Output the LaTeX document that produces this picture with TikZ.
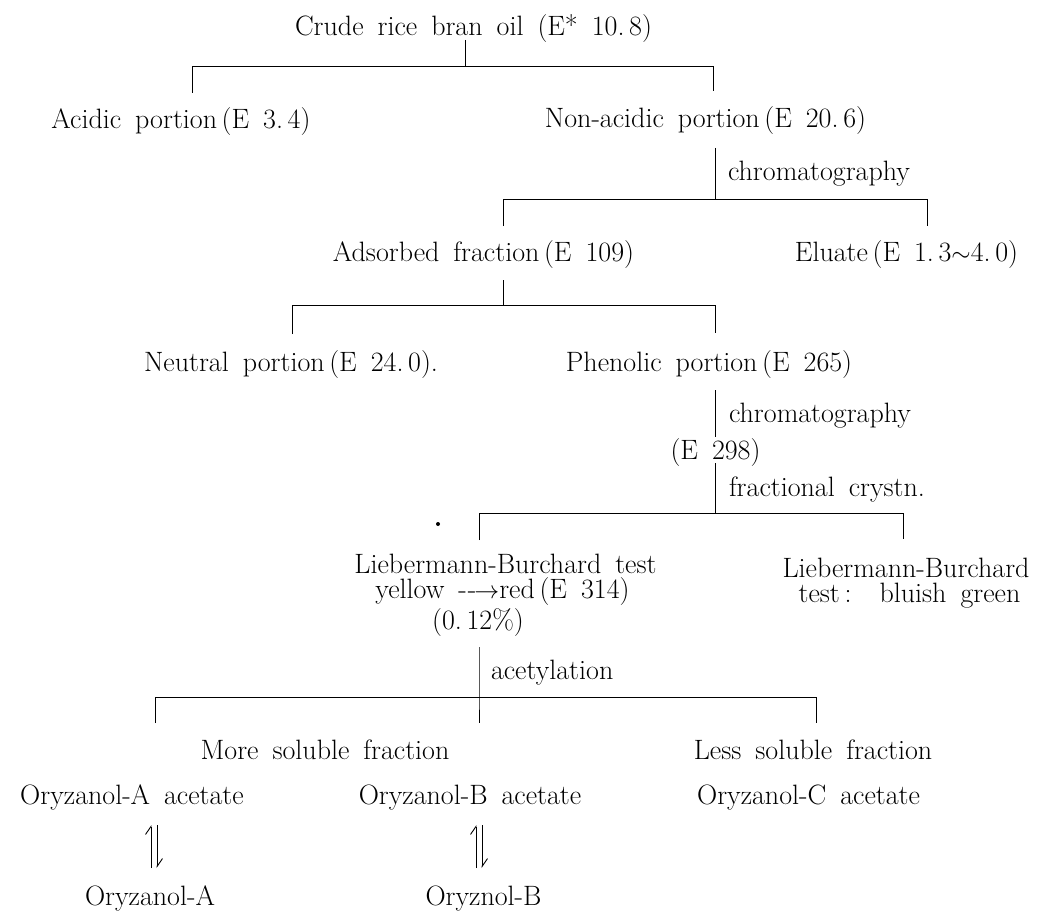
\documentclass[tikz,border=0pt]{standalone}
\usetikzlibrary{arrows.meta}
\newcommand\diagfont{\fontsize{28}{25}\selectfont\spaceskip 0.5em plus 0.1em\relax}
\tikzset{
  lbl/.style={anchor=base, inner sep=0pt, outer sep=0pt, font=\diagfont},
  lblw/.style={lbl, anchor=base west},
  br/.style={line width=0.9pt},
  harp/.style={line width=0.9pt, -{Straight Barb[left, length=8pt, width=11pt]}}
}
\begin{document}
\begin{tikzpicture}[x=1pt,y=-1pt]
\fill[white] (0,0) rectangle (1046,912);
\useasboundingbox (0,0) rectangle (1046,912);

% text nodes
\node[lbl] (crude) at (473.5,36) {Crude rice bran oil (E* 10.\,8)};
\node[lbl] (acid) at (181,129) {Acidic portion\,(E 3.\,4)};
\node[lbl] (nonacid) at (705.5,128) {Non-acidic portion\,(E 20.\,6)};
\node[lblw] (chrom1) at (728,181) {chromatography};
\node[lbl] (adsorbed) at (483.5,261) {Adsorbed fraction\,(E 109)};
\node[lbl] (eluate) at (906.5,261) {Eluate\,(E 1.\,3$\sim$4.\,0)};
\node[lbl] (neutral) at (291,371) {Neutral portion\,(E 24.\,0).};
\node[lbl] (phenolic) at (709,371) {Phenolic portion\,(E 265)};
\node[lblw] (chrom2) at (729,422) {chromatography};
\node[lbl] (e298) at (715.5,459) {(E\ 298)};
\node[lblw] (fract) at (729,496) {fractional crystn.};
% multi-line nodes: base anchor = baseline of last line
\node[lbl, align=center] (lbA) at (505.5,629) {Liebermann-Burchard test\\
  \hspace*{-6pt}yellow\ -\kern1pt-\kern-2pt$\rightarrow$red\,(E 314)\\[2pt]
  \hspace*{-55pt}(0.\,12\%)};
\node[lbl, align=center] (lbB) at (906,602) {Liebermann-Burchard\\
  \hspace*{7pt}test\,:\ \ bluish green};
\node[lblw] (acet) at (491,679) {acetylation};
\node[lbl] (more) at (325,759) {More soluble fraction};
\node[lbl] (less) at (813,759) {Less soluble fraction};
\node[lbl] (oaac) at (132,804) {Oryzanol-A acetate};
\node[lbl] (obac) at (470,804) {Oryzanol-B acetate};
\node[lbl] (ocac) at (808.5,804) {Oryzanol-C acetate};
\node[lbl] (oa) at (150,905) {Oryzanol-A};
\node[lbl] (ob) at (483.5,905) {Oryznol-B};

% branch 1
\coordinate (s1t) at (465,40);
\coordinate (s1b) at (465,66);
\coordinate (h1l) at (192,66);
\coordinate (h1r) at (713,66);
\coordinate (d1l) at (192,93);
\coordinate (d1r) at (713,91);
\draw[br] (s1t) -- (s1b);
\draw[br] (d1l) -- (h1l) -- (h1r) -- (d1r);

% branch 2
\coordinate (s2t) at (715,148);
\coordinate (s2b) at (715,199);
\coordinate (h2l) at (503,199);
\coordinate (h2r) at (927,199);
\coordinate (d2l) at (503,226);
\coordinate (d2r) at (927,226);
\draw[br] (s2t) -- (s2b);
\draw[br] (d2l) -- (h2l) -- (h2r) -- (d2r);

% branch 3
\coordinate (s3t) at (503,280);
\coordinate (s3b) at (503,305);
\coordinate (h3l) at (292,305);
\coordinate (h3r) at (715,305);
\coordinate (d3l) at (292,334);
\coordinate (d3r) at (715,333);
\draw[br] (s3t) -- (s3b);
\draw[br] (d3l) -- (h3l) -- (h3r) -- (d3r);

% branch 4
\coordinate (s4a) at (715,390);
\coordinate (s4b) at (715,437);
\coordinate (s4c) at (715,463);
\coordinate (s4d) at (715,513);
\coordinate (h4l) at (479,513);
\coordinate (h4r) at (903,513);
\coordinate (d4l) at (479,540);
\coordinate (d4r) at (903,539);
\draw[br] (s4a) -- (s4b);
\draw[br] (s4c) -- (s4d);
\draw[br] (d4l) -- (h4l) -- (h4r) -- (d4r);
\fill (438,524) circle (2);

% branch 5
\coordinate (s5t) at (479,647);
\coordinate (s5b) at (479,697);
\coordinate (h5l) at (155,697);
\coordinate (h5r) at (816,697);
\coordinate (d5l) at (155,723);
\coordinate (d5m) at (479,723);
\coordinate (d5r) at (816,723);
\draw[br] (s5t) -- (s5b) -- (d5m);
\draw[br] (d5l) -- (h5l) -- (h5r) -- (d5r);

% equilibrium harpoons
\coordinate (qa1) at (151,868);
\coordinate (qa2) at (151,825);
\coordinate (qa3) at (157,825);
\coordinate (qa4) at (157,868);
\draw[harp] (qa1) -- (qa2);
\draw[harp] (qa3) -- (qa4);
\coordinate (qb1) at (476,868);
\coordinate (qb2) at (476,825);
\coordinate (qb3) at (482,825);
\coordinate (qb4) at (482,868);
\draw[harp] (qb1) -- (qb2);
\draw[harp] (qb3) -- (qb4);
\end{tikzpicture}
\end{document}
